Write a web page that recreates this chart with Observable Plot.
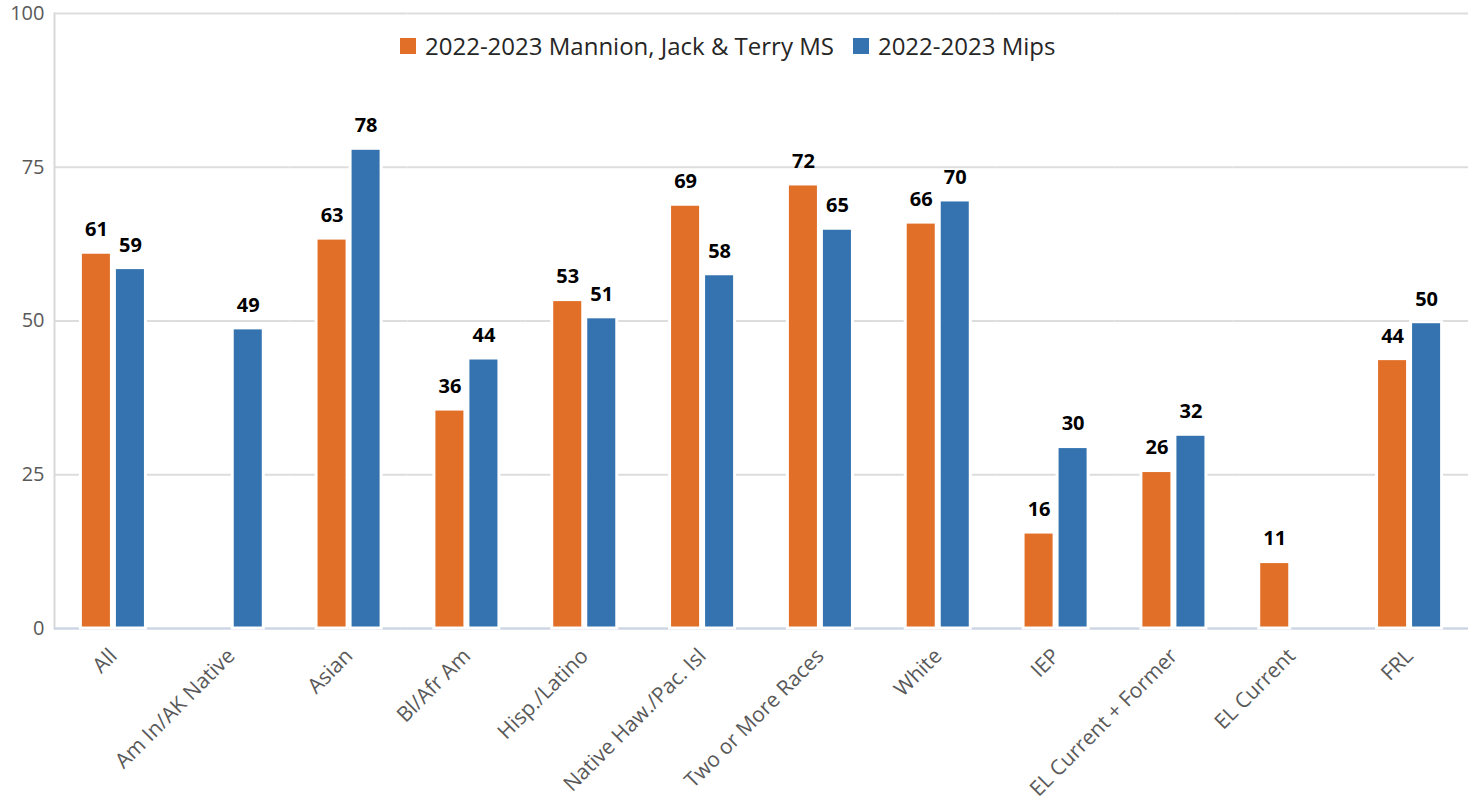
<!DOCTYPE html>
<html><head><meta charset="utf-8">
<script src="https://cdn.jsdelivr.net/npm/d3@7"></script>
<script src="https://cdn.jsdelivr.net/npm/@observablehq/plot@0.6"></script>
<style>
body{margin:0;background:#fff;font-family:"Open Sans",sans-serif;}
#wrap{position:relative;width:1475px;height:807px;}
#legend{position:absolute;top:31px;left:400px;display:flex;align-items:center;font-size:24px;color:#262626;white-space:nowrap;line-height:30px;}
.item{display:flex;align-items:center;margin-right:19px}
.sw{width:16px;height:16px;margin-right:9px;display:inline-block}
svg g[aria-label="y-axis tick label"] text{font-size:20px;}
svg g[aria-label="fx-axis tick label"] text{font-size:21px;}
</style></head><body><div id="wrap"><div id="legend"></div></div>
<script>
const categories = ["All", "Am In/AK Native", "Asian", "Bl/Afr Am", "Hisp./Latino", "Native Haw./Pac. Isl", "Two or More Races", "White", "IEP", "EL Current + Former", "EL Current", "FRL"];
const seriesNames = ["2022-2023 Mannion, Jack & Terry MS", "2022-2023 Mips"];
const schoolValues = [61.1, null, 63.4, 35.6, 53.4, 68.9, 72.2, 66.0, 15.6, 25.6, 10.8, 43.8];
const mipsValues = [58.6, 48.8, 78.0, 43.9, 50.6, 57.6, 65.0, 69.6, 29.5, 31.5, null, 49.8];
const seriesColors = ["#E26F28", "#3473AF"];
const yTicks = [0, 25, 50, 75, 100];

const rows = [];
categories.forEach((c, i) => {
  if (schoolValues[i] != null) rows.push({category: c, series: seriesNames[0], value: schoolValues[i]});
  if (mipsValues[i] != null) rows.push({category: c, series: seriesNames[1], value: mipsValues[i]});
});

const chart = Plot.plot({
  width: 1475, height: 807,
  marginLeft: 54, marginRight: 7, marginTop: 13, marginBottom: 179,
  style: {fontFamily: "Open Sans", fontSize: "20px", background: "#fff", overflow: "visible"},
  fx: {domain: categories, padding: 0, round: false, label: null},
  x: {domain: seriesNames, paddingInner: 0.088, paddingOuter: 0.776, round: false, axis: null},
  y: {domain: [0, 100], axis: null},
  color: {domain: seriesNames, range: seriesColors},
  marks: [
    Plot.gridY(yTicks, {stroke: "#DDDDDD", strokeOpacity: 1, strokeWidth: 2}),
    Plot.frame({anchor: "left", facetAnchor: "left", stroke: "#D9D9D9", strokeWidth: 2}),
    Plot.ruleY([0], {stroke: "#C9D4E6", strokeWidth: 2}),
    Plot.barY(rows, {fx: "category", x: "series", y: "value", fill: "series", stroke: "#fff", strokeWidth: 3}),
    Plot.text(rows, {fx: "category", x: "series", y: "value", text: d => String(Math.round(d.value)), dy: -23, fontWeight: "bold", fontSize: 20, fill: "#000"}),
    Plot.axisY({ticks: yTicks, tickSize: 0, tickPadding: 10, fontSize: 20, fill: "#595959", label: null}),
    Plot.axisFx({anchor: "bottom", tickSize: 0, tickPadding: 24, tickRotate: -45, fontSize: 21, fill: "#595959", label: null})
  ]
});
document.getElementById("wrap").appendChild(chart);

const legend = document.getElementById("legend");
seriesNames.forEach((name, i) => {
  const item = document.createElement("span");
  item.className = "item";
  const sw = document.createElement("span");
  sw.className = "sw";
  sw.style.background = seriesColors[i];
  item.appendChild(sw);
  item.appendChild(document.createTextNode(name));
  legend.appendChild(item);
});
</script>
</body></html>
